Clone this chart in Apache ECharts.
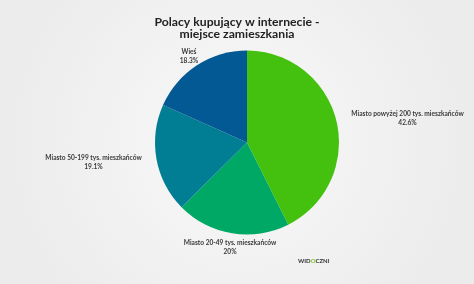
<!DOCTYPE html>
<html>
<head>
<meta charset="utf-8">
<script src="https://cdn.jsdelivr.net/npm/echarts@6/dist/echarts.min.js"></script>
<style>html,body{margin:0;padding:0;}#c{width:474px;height:284px;}</style>
</head>
<body>
<div id="c"></div>
<script>
const categories = ['Miasto powyżej 200 tys. mieszkańców', 'Miasto 20-49 tys. mieszkańców', 'Miasto 50-199 tys. mieszkańców', 'Wieś'];
const values = [42.6, 20, 19.1, 18.3];
const valueLabels = ['42.6%', '20%', '19.1%', '18.3%'];
const colors = ['#44c10e', '#00a866', '#017e93', '#025993'];
// label offsets from the slice edge point (label centre)
const labelOffsets = [[71, -3], [-2, 14], [-63, 3], [-8, -9]];

const chart = echarts.init(document.getElementById('c'));
chart.setOption({
  backgroundColor: {
    type: 'radial', x: 0.5, y: 0.5, r: 0.8,
    colorStops: [{offset: 0, color: '#f9f9f9'}, {offset: 1, color: '#ececec'}]
  },
  title: {
    text: 'Polacy kupujący w internecie -\nmiejsce zamieszkania',
    left: 'center', top: 11,
    textStyle: {fontFamily: 'Lato', fontWeight: 'bold', fontSize: 12.2, lineHeight: 12, color: '#222'}
  },
  graphic: [{
    type: 'text', left: 298, top: 258,
    style: {
      text: '{a|WID}{b|O}{a|CZNI}',
      rich: {
        a: {fontFamily: 'Lato', fontWeight: 'bold', fontSize: 6, fill: '#333'},
        b: {fontFamily: 'Lato', fontWeight: 'bold', fontSize: 6, fill: '#7cc61b'}
      }
    }
  }],
  series: [{
    type: 'pie',
    center: [247, 142.5],
    radius: 92,
    startAngle: 90,
    clockwise: true,
    animation: false,
    silent: true,
    data: categories.map((c, i) => ({name: c, value: values[i], itemStyle: {color: colors[i]}})),
    label: {
      show: true,
      position: 'outside',
      overflow: 'none',
      edgeDistance: 0,
      formatter: p => p.name + '\n' + valueLabels[p.dataIndex],
      fontFamily: 'Lato', fontWeight: 'bold', fontSize: 6.6, lineHeight: 9, color: '#3a3a3a'
    },
    labelLine: {show: false, length: 8, length2: 4},
    labelLayout: function (p) {
      const off = labelOffsets[p.dataIndex];
      const pts = p.labelLinePoints;
      if (pts && pts[0]) {
        return {x: pts[0][0] + off[0], y: pts[0][1] + off[1], align: 'center', verticalAlign: 'middle'};
      }
      return {};
    }
  }]
});
</script>
</body>
</html>
